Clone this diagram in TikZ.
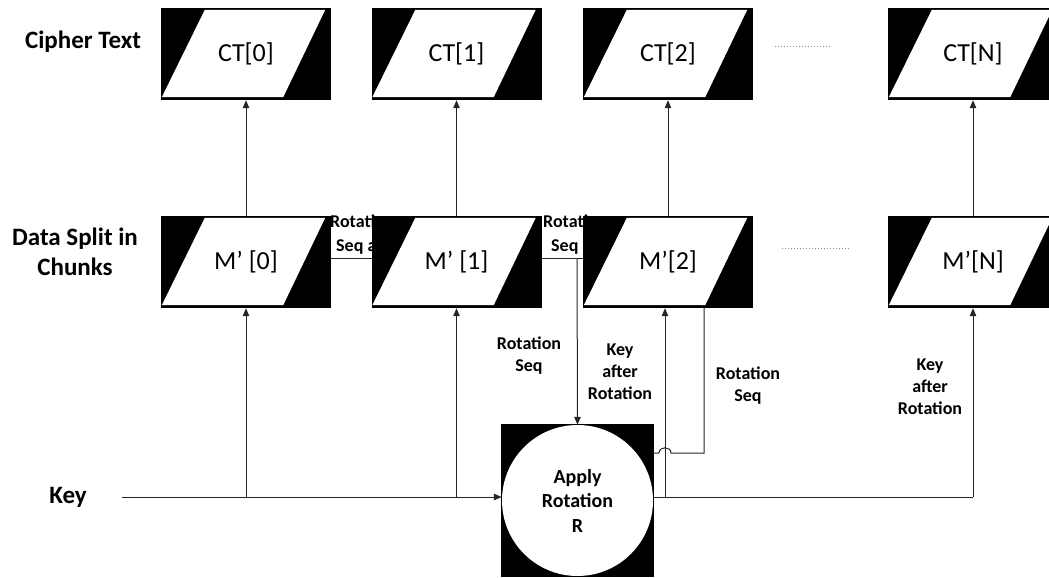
\documentclass[tikz,border=0pt]{standalone}
\usepackage{fontspec}
\setmainfont{Carlito}
\usetikzlibrary{calc,arrows.meta}
\tikzset{
 blkbox/.style={fill=black,draw=none,inner sep=0pt,minimum width=170pt,minimum height=92pt},
 boxtxt/.style={font=\fontsize{26}{30}\selectfont,inner sep=0pt},
 sidelbl/.style={font=\bfseries\fontsize{25}{30}\selectfont,align=center,inner sep=0pt},
 smalllbl/.style={font=\bfseries\fontsize{18}{22}\selectfont,align=center,inner sep=0pt},
 hidlbl/.style={font=\bfseries\fontsize{18}{24}\selectfont,align=left,inner sep=0pt,anchor=west},
 conn/.style={line width=1pt,draw=black!85},
 arr/.style={conn,-{Triangle[length=8pt,width=6.5pt]}},
 dotline/.style={dotted,line width=1pt,draw=black!45},
}
\newcommand\chunkbox[4]{%
 \node[blkbox] (#1) at (#2,#3) {};
 \fill[white] ($(#1.south west)+(1,-3)$) -- ($(#1.north west)+(44,2)$) -- ($(#1.north east)+(-6,2)$) -- ($(#1.south east)+(-48,-3)$) -- cycle;
 \node[boxtxt] (#1t) at (#1) {#4};
}
\begin{document}
\begin{tikzpicture}[x=1pt,y=-1pt]
\useasboundingbox (0,0) rectangle (1049,578);
% side labels
\node[sidelbl] (lct) at (83,42) {Cipher Text};
\node[sidelbl] (lds) at (75,252) {Data Split in\\Chunks};
\node[sidelbl] (lkey) at (68,497) {Key};
% partly hidden labels (behind boxes)
\node[hidlbl] (h1) at (330,235) {Rotation\\\hspace*{6pt}Seq and};
\node[hidlbl] (h2) at (543,235) {Rotation\\\hspace*{8pt}Seq and};
% coordinates
\coordinate (k) at (122,497);
\coordinate (rs1) at (577,258);
% connectors between chunk rows (drawn first)
\draw[conn] (330,258) -- (372,258);
\draw[conn] (541,258) -- (583,258);
% boxes
\chunkbox{ct0}{246}{54}{CT[0]}
\chunkbox{ct1}{456.5}{54}{CT[1]}
\chunkbox{ct2}{668}{54}{CT[2]}
\chunkbox{ctn}{973}{54}{CT[N]}
\chunkbox{m0}{246}{262}{M’ [0]}
\chunkbox{m1}{456.5}{262}{M’ [1]}
\chunkbox{m2}{668}{262}{M’[2]}
\chunkbox{mn}{973}{262}{M’[N]}
% rotation block
\node[fill=black,inner sep=0pt,minimum size=153pt] (rotsq) at (577.5,500.5) {};
\node[circle,fill=white,inner sep=0pt,minimum size=151pt,align=center,
      font=\bfseries\fontsize{20}{24.5}\selectfont] (rot) at (577.5,500.5) {Apply\\Rotation\\R};
% dotted continuation marks
\draw[dotline] (775,47) -- (832,47);
\draw[dotline] (782,248) -- (850,248);
% M' to CT
\foreach \i/\j in {m0/ct0,m1/ct1,m2/ct2,mn/ctn}{
  \draw[arr] (\i.north) -- (\j.south);
}
% key line
\draw[arr] (k) -- (k -| rot.west);
\draw[arr] (m0.south |- k) -- (m0.south);
\draw[arr] (m1.south |- k) -- (m1.south);
% rotation seq into rotation block
\draw[arr] (rs1) -- (rot.north);
% key after rotation
\draw[conn] (k -| rotsq.east) -- (mn.south |- k);
\draw[arr] (mn.south |- k) -- (mn.south);
\coordinate (kr) at ($(m2.south)+(-3,0)$);
\draw[arr] (kr |- k) -- (kr);
% rotation seq loop back with bridge
\coordinate (lp) at ($(m2.south)+(36,0)$);
\draw[conn] (lp) -- (lp |- 0,453) -- (671,453) .. controls (671,446) and (659,446) .. (659,453) -- (rotsq.east |- 0,453);
% labels
\node[smalllbl] (l1) at (529,356) {Rotation\\Seq};
\node[smalllbl] (l2) at (620,372) {Key\\after\\Rotation};
\node[smalllbl] (l3) at (748,386) {Rotation\\Seq};
\node[smalllbl] (l4) at (930,387) {Key\\after\\Rotation};
\end{tikzpicture}
\end{document}
